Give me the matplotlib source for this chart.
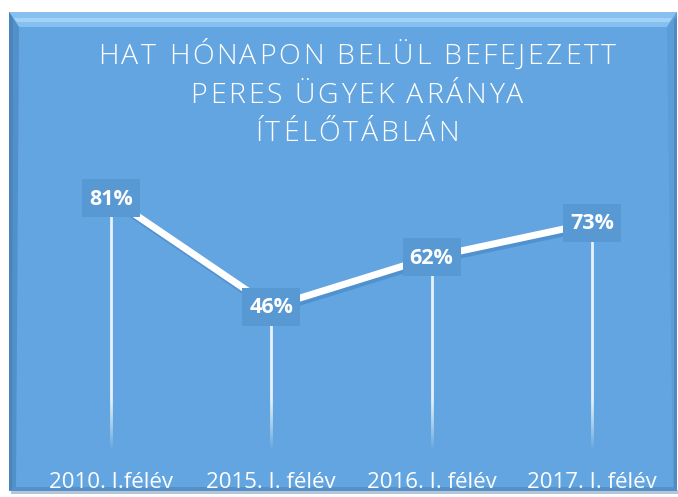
import matplotlib
matplotlib.use("Agg")
import matplotlib.pyplot as plt
import numpy as np
from matplotlib.patches import Rectangle, Polygon
from matplotlib.transforms import blended_transform_factory
from matplotlib.colors import to_rgb
import matplotlib.patheffects as pe

categories = ["2010. I.félév", "2015. I. félév", "2016. I. félév", "2017. I. félév"]
values = [81, 46, 62, 73]
labels = ["81%", "46%", "62%", "73%"]
title_lines = ["HAT HÓNAPON BELÜL BEFEJEZETT", "PERES ÜGYEK ARÁNYA", "ÍTÉLŐTÁBLÁN"]

W, H = 678, 497
DPI = 100
fig = plt.figure(figsize=(W / DPI, H / DPI), dpi=DPI)
fig.patch.set_facecolor("white")

BLUE = "#63A5E0"
BOX = "#5899D4"

bg = fig.add_axes([0, 0, 1, 1])
bg.set_xlim(0, W)
bg.set_ylim(H, 0)
bg.axis("off")
px0, py0, px1, py1 = 9, 12, 677, 491
bg.add_patch(Rectangle((px0 + 2, py1 - 1), px1 - px0, 4, color="#6f8fae", alpha=0.5, lw=0))
bg.add_patch(Rectangle((px0, py0), px1 - px0, py1 - py0, color=BLUE, lw=0))
# top bevel
bg.add_patch(Polygon([[px0, py0], [px1, py0], [px1 - 10, py0 + 15], [px0 + 10, py0 + 15]],
                     closed=True, color="#86c0f0", lw=0))
bg.add_patch(Polygon([[px0 + 5, py0 + 6], [px1 - 5, py0 + 6], [px1 - 8, py0 + 10], [px0 + 8, py0 + 10]],
                     closed=True, color="#a2d2f8", lw=0))
# left bevel
bg.add_patch(Polygon([[px0, py0], [px0 + 10, py0 + 15], [px0 + 7, py1 - 4], [px0, py1]],
                     closed=True, color="#5290ca", lw=0))
bg.add_patch(Polygon([[px0, py0], [px0 + 4, py0 + 6], [px0 + 3, py1 - 2], [px0, py1]],
                     closed=True, color="#4a84bb", lw=0))
# right bevel
bg.add_patch(Polygon([[px1, py0], [px1 - 10, py0 + 15], [px1 - 4, py1 - 4], [px1, py1]],
                     closed=True, color="#5c9dd8", lw=0))
bg.add_patch(Polygon([[px1, py0 + 5], [px1 - 3, py0 + 8], [px1 - 3, py1 - 3], [px1, py1]],
                     closed=True, color="#4f8ac2", lw=0))
# bottom bevel
bg.add_patch(Polygon([[px0, py1], [px0 + 7, py1 - 4], [px1 - 4, py1 - 4], [px1, py1]],
                     closed=True, color="#5591c8", lw=0))

left = (111 - 80.2) / W
width = (4 * 160.3) / W
bottom = (H - 450) / H
top = (H - 139) / H
ax = fig.add_axes([left, bottom, width, top - bottom])
ax.set_xlim(-0.5, 3.5)
ax.set_ylim(0, 100)
ax.axis("off")
ax.patch.set_alpha(0)

x = np.arange(len(values))

ax.vlines(x, 0, values, colors="white", alpha=0.85, lw=2.0, zorder=2)
rgb = to_rgb(BLUE)
grad = np.zeros((64, 1, 4))
grad[..., 0], grad[..., 1], grad[..., 2] = rgb
grad[:, 0, 3] = np.linspace(0, 1, 64) ** 1.2
for xi in x:
    ax.imshow(grad, extent=(xi - 0.03, xi + 0.03, 0, 17), aspect="auto", zorder=2.5,
              interpolation="bilinear", origin="upper")
ax.set_xlim(-0.5, 3.5)
ax.set_ylim(0, 100)

ax.plot(x, values, color="white", lw=5, solid_capstyle="butt", zorder=3,
        path_effects=[pe.SimpleLineShadow(offset=(1.5, -2.5), shadow_color="#3f7fbf", alpha=0.5),
                      pe.Normal()])

overlay = fig.add_axes([0, 0, 1, 1])
overlay.set_xlim(0, W)
overlay.set_ylim(H, 0)
overlay.axis("off")
overlay.patch.set_alpha(0)
fig.canvas.draw()
for xi, v, lab in zip(x, values, labels):
    cx, cy = ax.transData.transform((xi, v))
    cy_pix = H - cy
    overlay.add_patch(Rectangle((cx - 29, cy_pix - 19), 58, 38, color=BOX, lw=0))
    overlay.text(cx, cy_pix + 1, lab, ha="center", va="center", color="white", fontsize=15.5,
                 fontweight="bold", family=["Open Sans", "DejaVu Sans"])

tr = blended_transform_factory(ax.transData, overlay.transData)
for xi, c in zip(x, categories):
    overlay.text(xi, 488, c, transform=tr, ha="center", va="baseline", color="white",
                 fontsize=16, family=["Open Sans", "DejaVu Sans"])

renderer = fig.canvas.get_renderer()
tfont = dict(fontsize=20.5, color="white", family=["Open Sans", "DejaVu Sans"], fontweight="light")

def char_widths(s):
    ws = []
    for ch in s:
        if ch == " ":
            tt = overlay.text(0, 0, "a a", **tfont)
            wa = overlay.text(0, 0, "aa", **tfont)
            w = tt.get_window_extent(renderer).width - wa.get_window_extent(renderer).width
            tt.remove(); wa.remove()
        else:
            tt = overlay.text(0, 0, ch, **tfont)
            w = tt.get_window_extent(renderer).width
            tt.remove()
        ws.append(w)
    return ws

l1 = title_lines[0]
w1 = char_widths(l1)
spacing = (518 - sum(w1)) / (len(l1) - 1)
baselines = [64, 103, 141]
cx_title = 357
for line, yb in zip(title_lines, baselines):
    ws = char_widths(line)
    total = sum(ws) + spacing * (len(line) - 1)
    xpos = cx_title - total / 2
    for ch, w in zip(line, ws):
        if ch != " ":
            overlay.text(xpos, yb, ch, ha="left", va="baseline", **tfont)
        xpos += w + spacing

fig.savefig("out.png", dpi=DPI, facecolor="white")
